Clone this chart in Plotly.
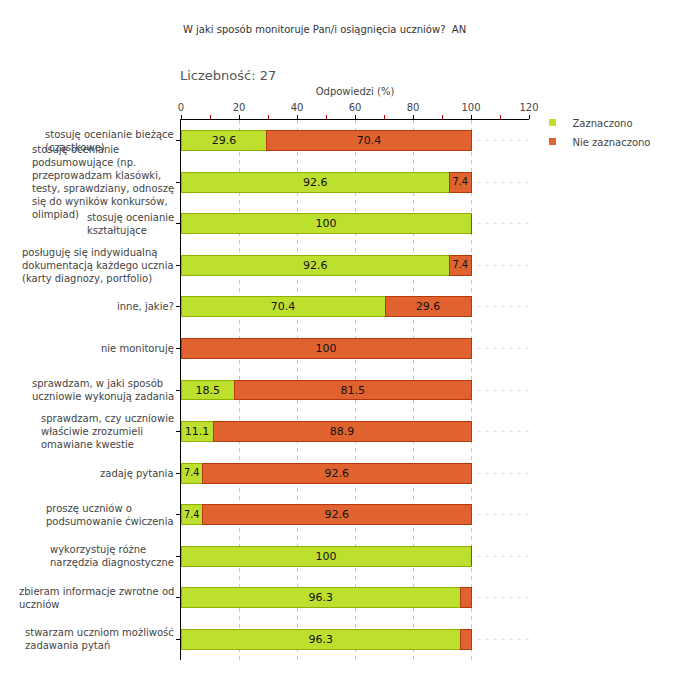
import plotly.graph_objects as go

categories = [
    "stosuję ocenianie bieżące<br>(cząstkowe)",
    "stosuję ocenianie<br>podsumowujące (np.<br>przeprowadzam klasówki,<br>testy, sprawdziany, odnoszę<br>się do wyników konkursów,<br>olimpiad)",
    "stosuję ocenianie<br>kształtujące",
    "posługuję się indywidualną<br>dokumentacją każdego ucznia<br>(karty diagnozy, portfolio)",
    "inne, jakie?",
    "nie monitoruję",
    "sprawdzam, w jaki sposób<br>uczniowie wykonują zadania",
    "sprawdzam, czy uczniowie<br>właściwie zrozumieli<br>omawiane kwestie",
    "zadaję pytania",
    "proszę uczniów o<br>podsumowanie ćwiczenia",
    "wykorzystuję różne<br>narzędzia diagnostyczne",
    "zbieram informacje zwrotne od<br>uczniów",
    "stwarzam uczniom możliwość<br>zadawania pytań",
]
zaznaczono = [29.6, 92.6, 100, 92.6, 70.4, 0, 18.5, 11.1, 7.4, 7.4, 100, 96.3, 96.3]
nie_zaznaczono = [70.4, 7.4, 0, 7.4, 29.6, 100, 81.5, 88.9, 92.6, 92.6, 0, 3.7, 3.7]
x_ticks = [0, 20, 40, 60, 80, 100, 120]
x_minor_ticks = [10, 30, 50, 70, 90, 110]
series_names = ["Zaznaczono", "Nie zaznaczono"]
series_colors = ["#bde02e", "#e0632f"]
series_edges = ["#8fb000", "#b23a0c"]

title_text = "W jaki sposób monitoruje Pan/i osiągnięcia uczniów?  AN"
count_text = "Liczebność: 27"

ids = list(range(len(categories)))
FONT = "DejaVu Sans"


def labels(vals):
    return [("%g" % v) if v >= 5 else "" for v in vals]


fig = go.Figure()
for name, vals, col, edge in zip(series_names, [zaznaczono, nie_zaznaczono], series_colors, series_edges):
    fig.add_trace(go.Bar(
        y=ids, x=vals, orientation="h", name=name, showlegend=False,
        marker=dict(color=col, line=dict(color=edge, width=1)),
        text=labels(vals), textposition="inside", insidetextanchor="middle",
        textfont=dict(family=FONT, size=11, color="#111"),
        width=0.48,
    ))
# legend entries with small square symbols
for name, col in zip(series_names, series_colors):
    fig.add_trace(go.Scatter(
        x=[None], y=[None], mode="markers", name=name,
        marker=dict(symbol="square", size=7, color=col),
    ))
# invisible trace on the overlay axis carrying the red minor ticks and the grid
fig.add_trace(go.Scatter(x=[None], y=[None], xaxis="x2", showlegend=False, hoverinfo="skip"))

annotations = []
for i, c in enumerate(categories):
    annotations.append(dict(
        x=0, xref="paper", y=i, yref="y", text=c, showarrow=False,
        xanchor="right", yanchor="middle", align="left", xshift=-5,
        font=dict(family=FONT, size=10, color="#444"),
    ))
annotations.append(dict(
    x=0, xref="paper", y=1 + 45 / 540, yref="paper", xanchor="left", yanchor="middle",
    text=count_text, showarrow=False, xshift=-3,
    font=dict(family=FONT, size=13, color="#555"),
))
annotations.append(dict(
    x=0, xref="paper", y=1 + 90 / 540, yref="paper", xanchor="left", yanchor="middle",
    text=title_text, showarrow=False, xshift=0,
    font=dict(family=FONT, size=10, color="#333"),
))

fig.update_layout(
    width=680, height=680,
    barmode="stack",
    plot_bgcolor="white", paper_bgcolor="white",
    margin=dict(l=181, r=151, t=120, b=20, autoexpand=False),
    font=dict(family=FONT, size=10, color="#444"),
    showlegend=True,
    legend=dict(x=1.01, y=1.022, xanchor="left", yanchor="top",
                traceorder="normal",
                font=dict(family=FONT, size=10, color="#444"),
                itemwidth=30, tracegroupgap=0, bgcolor="rgba(0,0,0,0)"),
    xaxis=dict(
        side="top", range=[0, 120], tickvals=x_ticks,
        automargin=False,
        showline=True, linecolor="black", linewidth=1,
        ticks="outside", ticklen=4, tickcolor="black",
        tickfont=dict(family=FONT, size=10, color="#444"),
        showgrid=True, gridcolor="#c8c8c8", gridwidth=1, griddash="4px,4px",
        zeroline=False,
        title=dict(text="Odpowiedzi (%)", standoff=4,
                   font=dict(family=FONT, size=10, color="#444")),
    ),
    xaxis2=dict(
        overlaying="x", side="top", range=[0, 120], tickvals=x_minor_ticks,
        showticklabels=False, ticks="outside", ticklen=4, tickcolor="#d00000",
        showgrid=False, zeroline=False, showline=False, automargin=False,
    ),
    yaxis=dict(
        tickvals=ids, showticklabels=False, range=[len(categories) - 0.5, -0.5],
        automargin=False,
        showline=True, linecolor="black", linewidth=1,
        ticks="outside", ticklen=4, tickcolor="black",
        showgrid=True, gridcolor="#e3e3e3", griddash="4px,4px", zeroline=False,
    ),
    annotations=annotations,
)

fig.write_html("out.html", post_script="document.body.style.margin='0';",
               config={"displayModeBar": False})
